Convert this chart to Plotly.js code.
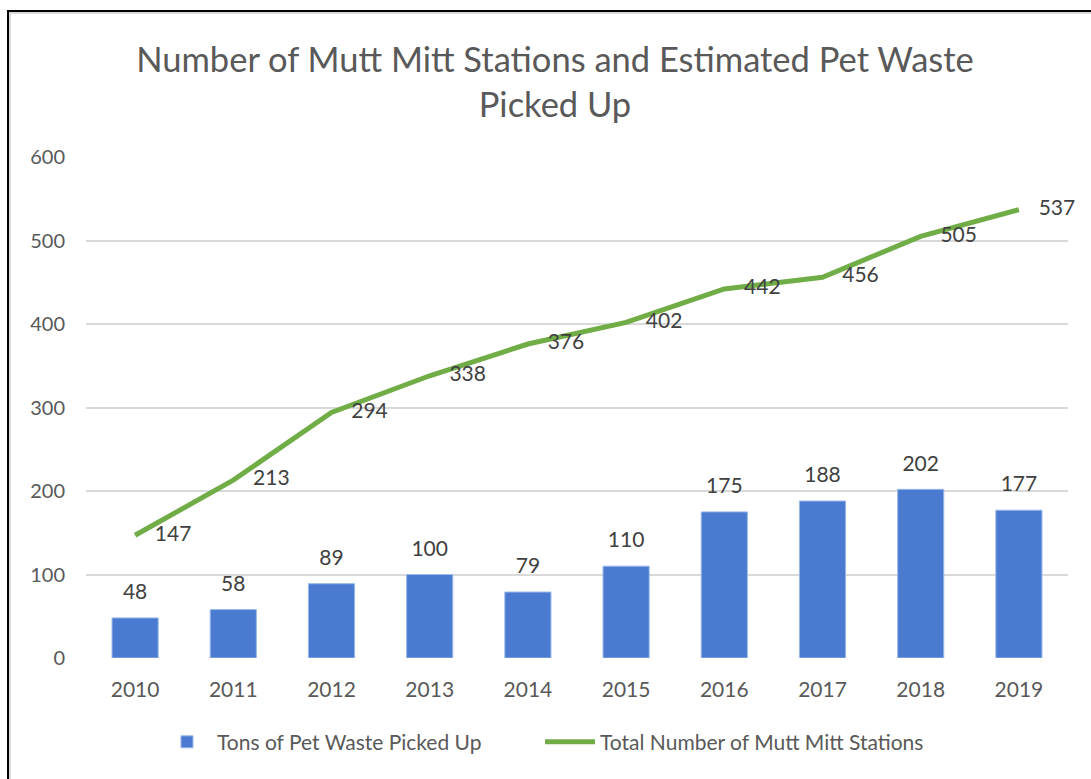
<!DOCTYPE html>
<html>
<head>
<meta charset="utf-8">
<script src="https://cdn.plot.ly/plotly-3.0.1.min.js"></script>
<style>
  html, body { margin: 0; padding: 0; background: #ffffff; }
  #wrap { position: relative; width: 1091px; height: 779px; overflow: hidden; }
  #chart { position: absolute; left: 0; top: 0; width: 1091px; height: 779px; }
  .frame { position: absolute; pointer-events: none; }
</style>
</head>
<body>
<div id="wrap">
  <div id="chart"></div>
  <div class="frame" style="left:7px; top:10px; width:2px; height:769px; background:#000;"></div>
  <div class="frame" style="left:9px; top:12px; width:2px; height:767px; background:#d9d9d9;"></div>
  <div class="frame" style="left:7px; top:10px; width:1084px; height:2px; background:#000;"></div>
  <div class="frame" style="left:9px; top:12px; width:1082px; height:2px; background:#d9d9d9;"></div>
</div>
<script>
const years = ['2010', '2011', '2012', '2013', '2014', '2015', '2016', '2017', '2018', '2019'];
const tonsPickedUp = [48, 58, 89, 100, 79, 110, 175, 188, 202, 177];
const totalStations = [147, 213, 294, 338, 376, 402, 442, 456, 505, 537];
const yTicks = [0, 100, 200, 300, 400, 500, 600];

const FONT = 'Lato, "Open Sans", "Liberation Sans", sans-serif';
const TEXT_GRAY = '#595959';
const LABEL_GRAY = '#404040';

const traces = [
  {
    type: 'bar',
    name: 'Tons of Pet Waste Picked Up',
    x: years,
    y: tonsPickedUp,
    marker: { color: '#4A7BD0', line: { color: '#9ab8ea', width: 1 } },
    hoverinfo: 'x+y'
  },
  {
    type: 'scatter',
    mode: 'markers+text',
    name: 'bar labels',
    x: years,
    y: tonsPickedUp,
    text: tonsPickedUp.map(String),
    textposition: 'top center',
    textfont: { family: FONT, size: 21, color: LABEL_GRAY },
    marker: { size: 20, color: 'rgba(0,0,0,0)' },
    showlegend: false,
    hoverinfo: 'skip',
    cliponaxis: false
  },
  {
    type: 'scatter',
    mode: 'lines+markers+text',
    name: 'Total Number of Mutt Mitt Stations',
    x: years,
    y: totalStations,
    text: totalStations.map(String),
    textposition: 'middle right',
    textfont: { family: FONT, size: 21, color: LABEL_GRAY },
    line: { color: '#70AD47', width: 5 },
    marker: { size: 30, color: 'rgba(0,0,0,0)' },
    cliponaxis: false
  }
];

const layout = {
  width: 1091,
  height: 779,
  paper_bgcolor: '#ffffff',
  plot_bgcolor: '#ffffff',
  font: { family: FONT, color: TEXT_GRAY, size: 20 },
  margin: { l: 86, r: 23, t: 157, b: 121, pad: 0 },
  title: {
    text: 'Number of Mutt Mitt Stations and Estimated Pet Waste<br>Picked Up',
    font: { family: FONT, size: 34.5, color: TEXT_GRAY },
    xref: 'container',
    yref: 'container',
    x: 0.5087,
    xanchor: 'center',
    y: 0.9076,
    yanchor: 'middle'
  },
  bargap: 0.53,
  xaxis: {
    type: 'category',
    categoryorder: 'array',
    categoryarray: years,
    range: [-0.5, 9.5],
    autorange: false,
    showgrid: false,
    showline: false,
    zeroline: false,
    ticks: '',
    ticklabelstandoff: 17,
    tickfont: { family: FONT, size: 21, color: TEXT_GRAY }
  },
  yaxis: {
    range: [0, 600],
    autorange: false,
    tickvals: yTicks,
    ticktext: yTicks.map(String),
    showgrid: true,
    gridcolor: '#d9d9d9',
    gridwidth: 2,
    zeroline: false,
    showline: false,
    ticks: '',
    ticklabelstandoff: 20,
    tickfont: { family: FONT, size: 20, color: TEXT_GRAY }
  },
  showlegend: true,
  legend: {
    orientation: 'h',
    xref: 'paper',
    yref: 'paper',
    x: 0.0723,
    xanchor: 'left',
    y: -0.168,
    yanchor: 'middle',
    font: { family: FONT, size: 21, color: TEXT_GRAY },
    bgcolor: 'rgba(0,0,0,0)',
    itemwidth: 50,
    entrywidth: 318,
    entrywidthmode: 'pixels',
    traceorder: 'normal'
  }
};

Plotly.newPlot('chart', traces, layout, { displayModeBar: false, staticPlot: true });
</script>
</body>
</html>
